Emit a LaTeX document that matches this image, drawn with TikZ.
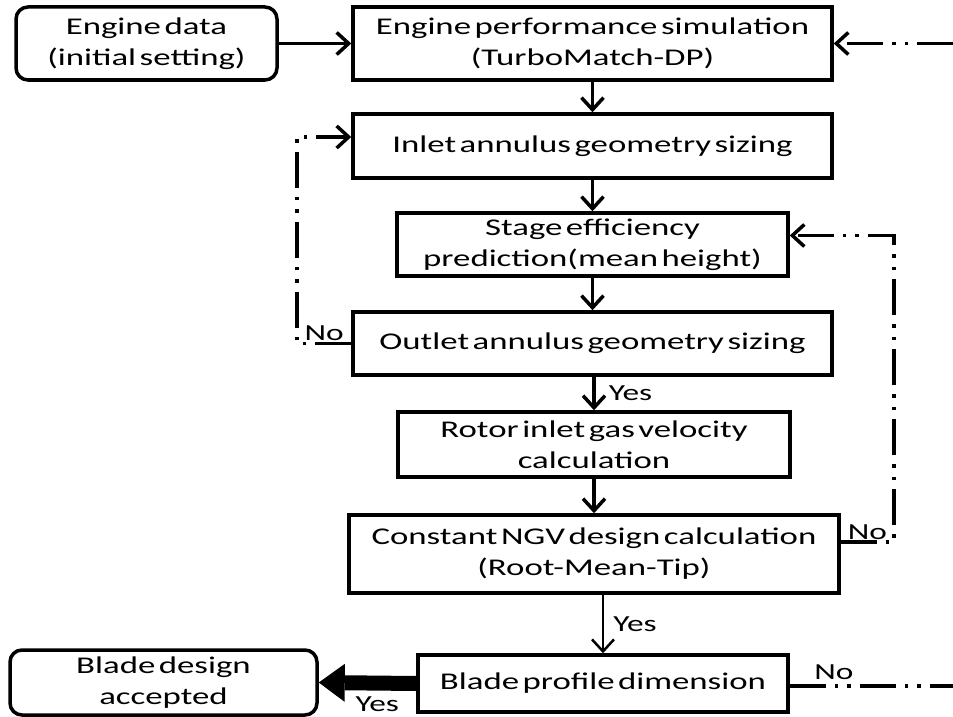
\documentclass[tikz,border=0pt]{standalone}
\usepackage{fontspec}
\setmainfont{Carlito}[FakeStretch=1.45,WordSpace=0.45]
\usetikzlibrary{arrows.meta}

\begin{document}
\begin{tikzpicture}[x=1pt, y=-1pt,
        box/.style={draw, line width=3.5pt, align=center, inner sep=0pt,
          font=\fontsize{24}{31}\selectfont},
        rbox/.style={box, rounded corners=12pt},
        ln/.style={line width=3.5pt, -{Straight Barb[length=12pt,width=22pt]}},
        dd/.style={ln, dash pattern=on 36pt off 9pt on 3.5pt off 9pt on 3.5pt off 9pt},
        lbl/.style={font=\fontsize{23}{26}\selectfont, inner sep=1pt},
      ]
      \useasboundingbox (0,0) rectangle (953,717);

      % Boxes
      \node[rbox, minimum width=261pt, minimum height=73pt] (data) at (146.5,43.5)
        {Engine data\\(initial setting)};
      \node[box, minimum width=479pt, minimum height=73pt] (perf) at (592.5,43.5)
        {Engine performance simulation\\(TurboMatch-DP)};
      \node[box, minimum width=479pt, minimum height=64pt] (inlet) at (592.5,146)
        {Inlet annulus geometry sizing};
      \node[box, minimum width=391pt, minimum height=63pt] (stage) at (592.5,244.5)
        {Stage efficiency\\prediction(mean height)};
      \node[box, minimum width=479pt, minimum height=63pt] (outlet) at (592.5,343.5)
        {Outlet annulus geometry sizing};
      \node[box, minimum width=392pt, minimum height=65pt] (rotor) at (594,444.5)
        {Rotor inlet gas velocity\\calculation};
      \node[box, minimum width=490pt, minimum height=78pt] (ngv) at (594,554)
        {Constant NGV design calculation\\(Root-Mean-Tip)};
      \node[box, minimum width=370pt, minimum height=57pt] (blade) at (603,683.5)
        {Blade profile dimension};
      \node[rbox, minimum width=307pt, minimum height=65pt] (accepted) at (163.5,682.5)
        {Blade design\\accepted};

      % Main flow
      \draw[ln] (data) -- (perf);
      \draw[ln] (perf) -- (inlet);
      \draw[ln] (inlet) -- (stage);
      \draw[ln] (stage) -- (outlet);
      \draw[ln] (outlet.south -| rotor.north) -- node[midway, right=12pt, lbl] {Yes} (rotor.north);
      \draw[ln] (rotor) -- (ngv);
      \draw[ln, line width=2.5pt] (ngv.south -| blade.north) -- node[midway, right=8pt, lbl] {Yes} (blade.north);
      \draw[line width=15pt, -{Triangle[length=26pt,width=38pt,line width=0pt]}]
        (blade.west) -- node[pos=0.4, below=5pt, lbl] {Yes} (accepted.east);

      % Loops back
      \coordinate (lft) at (297,0);
      \coordinate (rgt) at (894,0);
      \coordinate (inletin) at ([yshift=9pt]inlet.west);
      \coordinate (stagein) at ([yshift=9pt]stage.east);
      \coordinate (ngvout) at ([yshift=12pt]ngv.east);
      \coordinate (topin) at (953,43.5);
      \coordinate (botout) at (953,686);

      \draw[dd] (outlet.west) -- node[above, lbl] {No} (outlet.west -| lft) |- (inletin);
      \draw[dd] (ngvout) -- node[above, lbl] {No} (ngvout -| rgt) |- (stagein);
      \draw[dd] (topin) -- (perf.east);
      \draw[dd, -] (blade.east |- botout) -- node[pos=0.27, above=4pt, lbl] {No} (botout);
    \end{tikzpicture}
\end{document}
